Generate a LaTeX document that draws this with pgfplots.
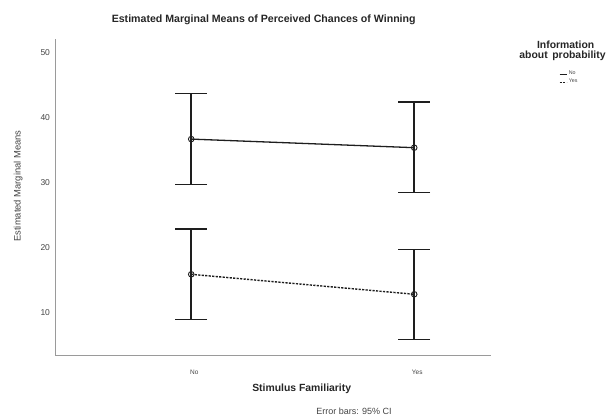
\documentclass[border=0pt]{standalone}
\usepackage{fontspec}
\setmainfont{Liberation Sans}
\usepackage{pgfplots}
\pgfplotsset{compat=1.18}
\definecolor{axgray}{HTML}{9A9A9A}
\definecolor{txtgray}{HTML}{444444}
\definecolor{ln}{HTML}{1E1E1E}
\begin{document}
\begin{tikzpicture}[x=1pt,y=1pt]
\useasboundingbox (0,0) rectangle (614,417);
\begin{axis}[
  at={(55pt,61.3pt)}, anchor=south west,
  scale only axis, width=435.7pt, height=316.7pt,
  xmin=-0.611, xmax=1.343, ymin=3.38, ymax=52.1,
  axis x line=bottom, axis y line=left,
  axis line style={-, draw=axgray, line width=1pt},
  xtick={0,1}, xticklabels={No,Yes},
  ytick={10,20,30,40,50},
  major tick length=0pt,
  /pgf/number format/assume math mode=true,
  xticklabel style={font=\fontsize{6.5}{7}\selectfont, text=txtgray, yshift=-11pt, xshift=3pt},
  yticklabel style={font=\fontsize{8.5}{9}\selectfont, text=txtgray, xshift=-1.5pt},
  legend style={draw=none, fill=none, at={(1.157,0.905)}, anchor=north west,
    font=\fontsize{5.3}{6}\selectfont, inner sep=0pt, row sep=-1.2pt,
    cells={anchor=west}, text=txtgray},
  legend image code/.code={\draw[#1, line width=0.6pt] (0pt,0pt) -- (7pt,0pt);},
  clip=false,
]
\addplot[ln, line width=1.3pt, mark=o, mark size=2.8pt,
  mark options={solid, line width=0.9pt},
  error bars/.cd, y dir=both, y explicit,
  error bar style={line width=1.5pt, solid, ln},
  error mark options={rotate=90, mark size=16pt, line width=1.5pt, ln}]
  coordinates {
  (0,36.7) += (0,7.05) -= (0,7.0)
  (1,35.38) += (0,6.99) -= (0,6.92)
  };
\addlegendentry{No}
\addplot[ln, line width=1.4pt, dash pattern=on 2.2pt off 1.3pt, mark=o, mark size=2.8pt,
  mark options={solid, line width=0.9pt},
  error bars/.cd, y dir=both, y explicit,
  error bar style={line width=1.5pt, solid, ln},
  error mark options={rotate=90, mark size=16pt, line width=1.5pt, solid, ln}]
  coordinates {
  (0,15.9) += (0,6.98) -= (0,6.92)
  (1,12.83) += (0,6.92) -= (0,6.93)
  };
\addlegendentry{Yes}
\end{axis}
\node[font=\bfseries\fontsize{10.6}{12}\selectfont, text=black!85] at (263.7,397) {Estimated Marginal Means of Perceived Chances of Winning};
\node[font=\bfseries\fontsize{10.4}{12}\selectfont, text=black!85] at (301.7,27.7) {Stimulus Familiarity};
\node[font=\fontsize{9}{10}\selectfont, text=txtgray] at (354,5.5) {Error bars: 95\% CI};
\node[font=\fontsize{9.4}{10}\selectfont, text=txtgray, rotate=90] at (18.3,231) {Estimated Marginal Means};
\node[font=\bfseries\fontsize{10.4}{12}\selectfont, text=black!85] at (565.7,372) {Information};
\node[font=\bfseries\fontsize{10.4}{12}\selectfont, text=black!85] at (562.5,361.3) {about\, probability};
\end{tikzpicture}
\end{document}
